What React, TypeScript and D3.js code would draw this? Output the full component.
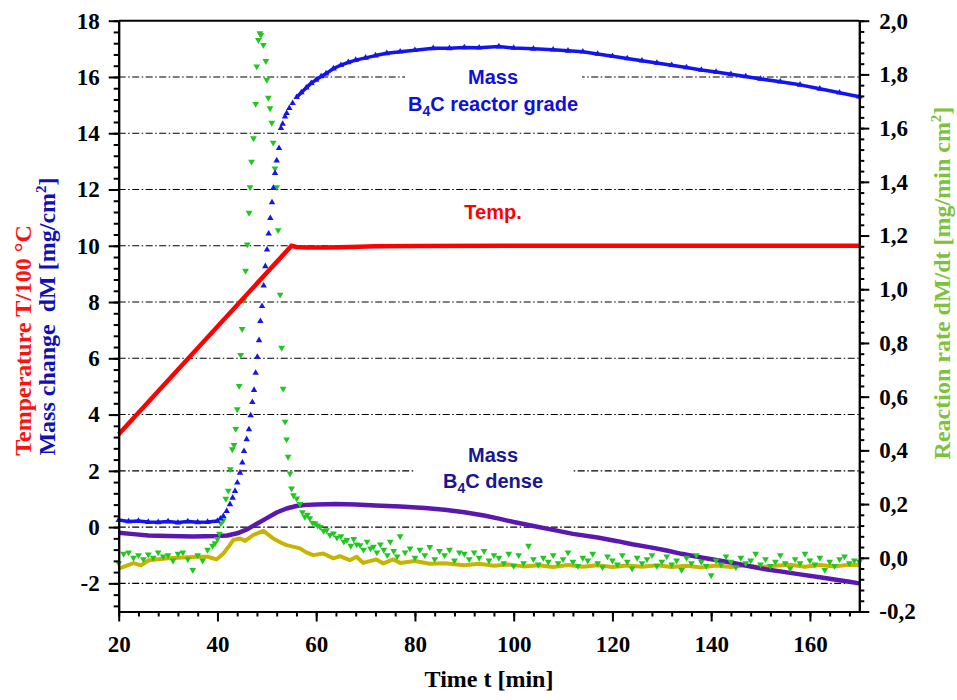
import React, { useEffect, useRef } from 'react';
import * as d3 from 'd3';

const W = 957;
const H = 700;
const plot = { left: 118.7, right: 859.3, top: 20.7, bottom: 611.5 };

// Mass change, B4C reactor grade [mg/cm²] (left axis)
const blueT = [20, 22, 24, 26, 28, 30, 32, 34, 36, 38, 40, 40.6,
  41.19, 41.87, 42.54, 43.08, 43.56, 44.03, 44.57, 45.04, 45.38, 45.92, 46.39, 46.73, 47.07, 47.41,
  47.74, 48.08, 48.42, 48.69, 49.03, 49.36, 49.7, 50.04, 50.37, 50.71, 51.05, 51.32, 51.66, 52.0,
  52.47, 52.87, 53.21, 53.68, 54.02, 54.56, 55.23,
  56.05, 57, 58, 59, 60, 61, 62, 63.5, 65, 66.5, 68, 70, 72, 74.3, 77, 80, 83.7, 87, 90, 93, 97,
  100, 104, 108, 111, 114, 117, 120, 123, 126, 129, 132, 135, 138, 141, 144, 147, 150, 154, 158,
  162, 166, 170];
const blueM = [0.25, 0.2, 0.22, 0.18, 0.17, 0.2, 0.16, 0.2, 0.17, 0.18, 0.22, 0.3,
  0.39, 0.57, 0.81, 1.04, 1.28, 1.58, 1.93, 2.29, 2.7, 3.12, 3.47, 3.97, 4.44, 4.87,
  5.48, 6.05, 6.64, 7.32, 7.85, 8.58, 9.27, 9.86, 10.43, 10.98, 11.54, 12.05, 12.58, 13.03,
  13.47, 14.18, 14.33, 14.59, 14.71, 14.89, 15.07,
  15.28, 15.45, 15.62, 15.78, 15.9, 16.02, 16.12, 16.3, 16.42, 16.52, 16.6, 16.68, 16.76, 16.84,
  16.9, 16.95, 17.02, 17.02, 17.05, 17.04, 17.08,
  17.03, 17.0, 16.97, 16.93, 16.9, 16.82, 16.74, 16.66, 16.58, 16.5, 16.42, 16.34, 16.25, 16.18,
  16.1, 16.02, 15.93, 15.83, 15.72, 15.58, 15.44, 15.3];

// Temperature T/100 °C (left axis)
const tempT = [20, 55, 56, 58, 62, 67, 72, 80, 100, 130, 170];
const tempV = [3.3, 10.0, 9.96, 9.94, 9.94, 9.96, 9.98, 9.99, 10.0, 10.0, 10.0];

// Mass change, B4C dense [mg/cm²] (left axis)
const denseT = [20, 23, 26, 30, 35, 40, 42, 44, 46, 48, 50, 52, 54, 56, 58, 60, 64, 68, 72, 77, 82,
  86, 90, 94, 97, 100, 104, 108, 112, 117, 121, 124, 128, 131, 134, 138, 141, 144, 148, 151, 155,
  158, 162, 165, 168, 170];
const denseM = [-0.2, -0.25, -0.3, -0.32, -0.33, -0.32, -0.3, -0.22, -0.08, 0.12, 0.32, 0.52, 0.66,
  0.75, 0.79, 0.8, 0.82, 0.8, 0.77, 0.73, 0.68, 0.62, 0.53, 0.41, 0.3, 0.18, 0.04, -0.1, -0.24,
  -0.37, -0.5, -0.61, -0.73, -0.83, -0.95, -1.08, -1.17, -1.26, -1.4, -1.5, -1.6, -1.68, -1.78,
  -1.86, -1.94, -2.0];

// Reaction rate, B4C dense [mg/min cm²] (right axis)
const denseRateT = [20, 21.5, 23, 24.5, 26, 28, 30, 32, 34, 36, 38, 39.8, 41.2, 42.2, 43.2, 44.6,
  45.6, 47.3, 49.3, 51.3, 53, 54, 56.7, 58, 59.4, 61.4, 63.5, 64.8, 66.8, 68.2, 69.5, 72.2, 73.6,
  75.6, 77, 80, 83, 86, 90, 93, 96, 99, 102, 105, 108, 111, 114, 117, 120, 123, 126, 129, 132, 135,
  138, 141, 144, 147, 150, 153, 156, 159, 162, 165, 168, 170];
const denseRate = [-0.04, -0.03, -0.02, -0.028, -0.01, -0.005, -0.002, 0.0, 0.002, 0.004, 0.004,
  -0.006, 0.016, 0.04, 0.066, 0.072, 0.063, 0.085, 0.1, 0.072, 0.055, 0.047, 0.035, 0.02, 0.01,
  0.016, -0.002, 0.006, -0.009, 0.004, -0.019, -0.006, -0.021, -0.006, -0.019, -0.012, -0.022,
  -0.02, -0.028, -0.022, -0.03, -0.025, -0.032, -0.028, -0.034, -0.027, -0.033, -0.028, -0.034,
  -0.029, -0.033, -0.028, -0.034, -0.03, -0.036, -0.029, -0.034, -0.028, -0.035, -0.03, -0.026,
  -0.033, -0.027, -0.032, -0.026, -0.028];

// Reaction rate, B4C reactor grade [mg/min cm²] (right axis)
const rateT = [20, 21, 22, 23, 24, 25, 26, 27, 28, 29, 30, 31, 32, 33, 34, 35, 36, 37, 38, 39,
  39.5, 40, 40.4, 40.7, 41.2, 41.7, 42.2, 42.6, 43.0, 43.35, 43.7, 44.0, 44.4, 44.7, 45.0, 45.35,
  45.7, 46.05, 46.4, 46.6, 46.9, 47.3, 47.75, 47.95, 48.3, 48.6, 48.8, 49.3, 49.8, 50.0, 50.3,
  50.65, 51.0, 51.3, 51.65, 52.0, 52.3, 52.7, 53.0, 53.3, 53.7, 54.0, 54.3, 54.7, 55.0, 55.4,
  56.05, 56.7, 57.2, 57.7, 58.2, 58.7, 59.3, 59.8, 60.3, 60.8, 61.5, 62.1, 62.8, 63.5, 64.2, 65,
  65.6, 66.2, 67, 67.6, 68.2, 68.9, 69.6, 70.3, 71, 71.6, 72.3, 73, 73.7, 74.4, 75, 75.7, 76.4,
  77, 78, 79, 80, 81, 82, 83, 84, 85, 86, 87, 88, 89, 90, 91, 92, 93, 94, 95, 96, 97, 98, 99,
  100, 101, 102, 103, 104, 105, 106, 107, 108, 109, 110, 111, 112, 113, 114, 115, 116, 117, 118,
  119, 120, 121, 122, 123, 124, 125, 126, 127, 128, 129, 130, 131, 132, 133, 134, 135, 136, 137,
  138, 139, 140, 141, 142, 143, 144, 145, 146, 147, 148, 149, 150, 151, 152, 153, 154, 155, 156,
  157, 158, 159, 160, 161, 162, 163, 164, 165, 166, 167, 168, 169, 170];
const rate = [-0.02, 0.015, 0.02, 0.0, 0.01, -0.005, 0.012, 0.0, 0.02, 0.005, 0.01, -0.01, 0.015,
  0.02, -0.005, -0.045, 0.01, -0.01, 0.03, 0.045,
  0.054, 0.07, 0.09, 0.128, 0.14, 0.22, 0.25, 0.33, 0.404, 0.42, 0.48, 0.553, 0.64, 0.755, 0.852,
  0.96, 1.069, 1.167, 1.285, 1.38, 1.475, 1.562, 1.69, 1.83, 1.928, 1.953, 1.947, 1.91, 1.85, 1.78,
  1.713, 1.674, 1.62, 1.546, 1.45, 1.38, 1.22, 0.98, 0.782, 0.63, 0.507, 0.441, 0.376, 0.314,
  0.258, 0.233, 0.221, 0.2, 0.17, 0.153, 0.16, 0.147, 0.13, 0.128, 0.12, 0.115, 0.1, 0.103, 0.085,
  0.091, 0.075, 0.08, 0.06, 0.066, 0.045, 0.07, 0.05, 0.047, 0.03, 0.06, 0.035, 0.041, 0.02, 0.05,
  0.03, 0.01, 0.06, 0.025, 0.005,
  0.08, 0.02, 0.035, 0.0, 0.03, 0.01, 0.04, -0.005, 0.025, 0.01, 0.03, -0.01, 0.02, 0.015, -0.005,
  0.02, 0.0, 0.025, -0.01, 0.01, 0.0, -0.02, 0.015, -0.03, 0.01, -0.02, 0.045, -0.005, -0.025,
  0.0, -0.015, 0.01, -0.02, -0.005, 0.02, -0.015, -0.03, 0.0, -0.01, 0.015, -0.02, -0.035, 0.005,
  -0.01, -0.025, 0.01, -0.015, -0.04, 0.0, -0.02, -0.005, 0.01, -0.03, -0.015, 0.005, -0.025,
  -0.01, -0.045, 0.0, -0.02, 0.01, -0.015, -0.03, -0.065, -0.01, -0.025, 0.005, -0.015, -0.035,
  0.0, -0.02, -0.01, 0.015, -0.025, -0.005, -0.03, -0.015, 0.01, -0.02, -0.04, -0.005, -0.02,
  0.015, -0.01, -0.025, 0.0, -0.045, -0.015, -0.03, -0.005, 0.005, -0.02, -0.01, -0.015];

const xTicks = [20, 40, 60, 80, 100, 120, 140, 160];
const leftTicks = [-2, 0, 2, 4, 6, 8, 10, 12, 14, 16, 18];
const rightTicks = [-0.2, 0, 0.2, 0.4, 0.6, 0.8, 1.0, 1.2, 1.4, 1.6, 1.8, 2.0];
const gridValues = [-2, 0, 2, 4, 6, 8, 10, 12, 14, 16];

const serif = "'Liberation Serif', 'Times New Roman', serif";
const sans = "'Liberation Sans', Arial, sans-serif";

export default function App() {
  const ref = useRef<SVGSVGElement>(null);

  useEffect(() => {
    const svg = d3.select(ref.current);
    svg.selectAll('*').remove();

    const x = d3.scaleLinear().domain([20, 170]).range([plot.left, plot.right]);
    const yL = d3.scaleLinear().domain([-3, 18]).range([plot.bottom, plot.top]);
    const yR = d3.scaleLinear().domain([-0.2, 2.0]).range([plot.bottom, plot.top]);

    // grid
    svg.append('g').selectAll('line').data(gridValues).join('line')
      .attr('x1', plot.left).attr('x2', plot.right)
      .attr('y1', (d) => yL(d)).attr('y2', (d) => yL(d))
      .attr('stroke', '#000').attr('stroke-width', 1.1)
      .attr('stroke-dasharray', '7,2.5,1.5,2.5');

    // label boxes
    svg.append('rect').attr('x', 405).attr('y', 60).attr('width', 177).attr('height', 58).attr('fill', '#fff');
    svg.append('rect').attr('x', 415).attr('y', 440).attr('width', 157).attr('height', 55).attr('fill', '#fff');

    const label = (tx: number, ty: number, color: string, main: string, sub?: string, rest?: string) => {
      const t = svg.append('text').attr('x', tx).attr('y', ty).attr('text-anchor', 'middle')
        .attr('font-family', sans).attr('font-weight', 'bold').attr('font-size', 20).attr('fill', color);
      t.append('tspan').text(main);
      if (sub) {
        t.append('tspan').attr('font-size', 14).attr('dy', 5).text(sub);
        t.append('tspan').attr('dy', -5).text(rest || '');
      }
    };
    label(493, 84, '#1010d8', 'Mass');
    label(493, 111, '#1010d8', 'B', '4', 'C reactor grade');
    label(493, 219, '#ff0000', 'Temp.');
    label(493, 462, '#17178f', 'Mass');
    label(493, 488, '#17178f', 'B', '4', 'C dense');

    // series
    const pts = (ts: number[], vs: number[]) => ts.map((t, i) => [t, vs[i]] as [number, number]);

    const lineL = d3.line<[number, number]>().x((d) => x(d[0])).y((d) => yL(d[1]));
    const lineR = d3.line<[number, number]>().x((d) => x(d[0])).y((d) => yR(d[1]));

    svg.append('path').attr('d', lineR(pts(denseRateT, denseRate)))
      .attr('fill', 'none').attr('stroke', '#c8b400').attr('stroke-width', 4).attr('stroke-linejoin', 'round');

    svg.append('path').attr('d', lineL(pts(denseT, denseM)))
      .attr('fill', 'none').attr('stroke', '#5a18b0').attr('stroke-width', 4.5).attr('stroke-linejoin', 'round');

    // reaction rate markers
    const triDown = d3.symbol().type(d3.symbolTriangle).size(20)();
    svg.append('g').selectAll('path').data(pts(rateT, rate)).join('path')
      .attr('d', triDown)
      .attr('transform', (d) => `translate(${x(d[0])},${yR(d[1])}) rotate(180)`)
      .attr('fill', '#1fc81f');

    // mass (reactor grade): line where samples are dense, markers everywhere
    const blue = pts(blueT, blueM);
    const segs: [number, number][][] = [];
    let cur: [number, number][] = [blue[0]];
    for (let i = 1; i < blue.length; i++) {
      if (blue[i][0] - blue[i - 1][0] >= 0.9) cur.push(blue[i]);
      else { if (cur.length > 1) segs.push(cur); cur = [blue[i]]; }
    }
    if (cur.length > 1) segs.push(cur);
    svg.append('g').selectAll('path').data(segs).join('path')
      .attr('d', (s) => lineL(s))
      .attr('fill', 'none').attr('stroke', '#1414f0').attr('stroke-width', 3.5).attr('stroke-linejoin', 'round');
    const triUp = d3.symbol().type(d3.symbolTriangle).size(18)();
    svg.append('g').selectAll('path').data(blue).join('path')
      .attr('d', triUp)
      .attr('transform', (d) => `translate(${x(d[0])},${yL(d[1])})`)
      .attr('fill', '#1414f0');

    svg.append('path').attr('d', lineL(pts(tempT, tempV)))
      .attr('fill', 'none').attr('stroke', '#ff0000').attr('stroke-width', 4.5);

    // frame top
    svg.append('line').attr('x1', plot.left).attr('x2', plot.right)
      .attr('y1', plot.top).attr('y2', plot.top).attr('stroke', '#000').attr('stroke-width', 2);

    const styleAxis = (g: d3.Selection<SVGGElement, unknown, null, undefined>) => {
      g.select('.domain').attr('stroke-width', 2);
      g.selectAll('.tick line').attr('stroke-width', 2);
      g.selectAll('text').attr('font-family', serif).attr('font-weight', 'bold')
        .attr('font-size', 23).attr('fill', '#000');
    };

    // x axis
    const gxMinor = svg.append('g').attr('transform', `translate(0,${plot.bottom})`)
      .call(d3.axisBottom(x).tickValues(d3.range(20, 170, 4)).tickSize(5).tickSizeOuter(0).tickFormat(() => ''));
    styleAxis(gxMinor);
    const gx = svg.append('g').attr('transform', `translate(0,${plot.bottom})`)
      .call(d3.axisBottom(x).tickValues(xTicks).tickSize(10).tickSizeOuter(0).tickPadding(14)
        .tickFormat((d) => String(d)));
    styleAxis(gx);

    // left axis
    const glMinor = svg.append('g').attr('transform', `translate(${plot.left},0)`)
      .call(d3.axisLeft(yL).tickValues(d3.range(-2.8, 18.01, 0.4)).tickSize(5).tickSizeOuter(0).tickFormat(() => ''));
    styleAxis(glMinor);
    const gl = svg.append('g').attr('transform', `translate(${plot.left},0)`)
      .call(d3.axisLeft(yL).tickValues(leftTicks).tickSize(10).tickSizeOuter(0).tickPadding(9)
        .tickFormat((d) => String(d)));
    styleAxis(gl);

    // right axis
    const grMinor = svg.append('g').attr('transform', `translate(${plot.right},0)`)
      .call(d3.axisRight(yR).tickValues(d3.range(-0.2, 2.001, 0.04)).tickSize(5).tickSizeOuter(0).tickFormat(() => ''));
    styleAxis(grMinor);
    const gr = svg.append('g').attr('transform', `translate(${plot.right},0)`)
      .call(d3.axisRight(yR).tickValues(rightTicks).tickSize(10).tickSizeOuter(0).tickPadding(10)
        .tickFormat((d) => (+d).toFixed(1).replace('.', ',')));
    styleAxis(gr);

    // axis titles
    svg.append('text').attr('x', 489).attr('y', 687).attr('text-anchor', 'middle')
      .attr('font-family', serif).attr('font-weight', 'bold').attr('font-size', 24).text('Time t [min]');

    svg.append('text').attr('transform', 'translate(30.5,340.5) rotate(-90)').attr('text-anchor', 'middle')
      .attr('font-family', serif).attr('font-weight', 'bold').attr('font-size', 24).attr('fill', '#ff1010')
      .text('Temperature T/100 °C');
    const bt = svg.append('text').attr('transform', 'translate(55,316.5) rotate(-90)').attr('text-anchor', 'middle')
      .attr('font-family', serif).attr('font-weight', 'bold').attr('font-size', 24).attr('fill', '#1010b8')
      .style('white-space', 'pre');
    bt.append('tspan').text('Mass change  dM [mg/cm');
    bt.append('tspan').attr('font-size', 15).attr('dy', -9).text('2');
    bt.append('tspan').attr('dy', 9).text(']');

    const rt = svg.append('text').attr('transform', 'translate(950,283) rotate(-90)').attr('text-anchor', 'middle')
      .attr('font-family', serif).attr('font-weight', 'bold').attr('font-size', 24).attr('fill', '#7cc23a');
    rt.append('tspan').text('Reaction rate dM/dt [mg/min cm');
    rt.append('tspan').attr('font-size', 15).attr('dy', -9).text('2');
    rt.append('tspan').attr('dy', 9).text(']');
  }, []);

  return (
    <svg ref={ref} width={W} height={H}
      style={{ position: 'absolute', left: 0, top: 0, background: '#fff' }} />
  );
}
